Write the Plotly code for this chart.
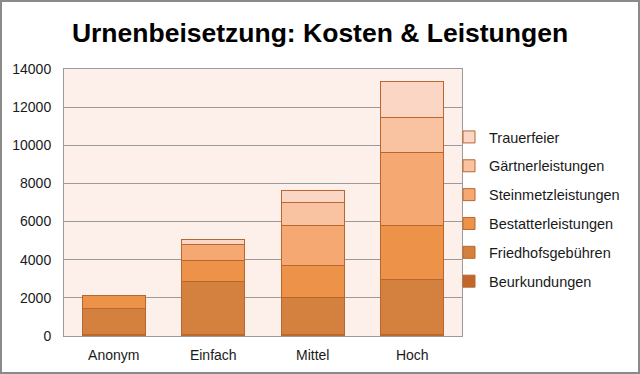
import plotly.graph_objects as go

categories = ["Anonym", "Einfach", "Mittel", "Hoch"]
series_names = ["Beurkundungen", "Friedhofsgebühren", "Bestatterleistungen",
                "Steinmetzleistungen", "Gärtnerleistungen", "Trauerfeier"]
beurkundungen = [80, 80, 80, 80]
friedhof = [1370, 2770, 1950, 2900]
bestatter = [650, 1130, 1690, 2790]
steinmetz = [0, 820, 2100, 3840]
gaertner = [0, 0, 1170, 1860]
trauerfeier = [0, 280, 660, 1870]
series_values = [beurkundungen, friedhof, bestatter, steinmetz, gaertner, trauerfeier]
colors = ["#C2672C", "#D4803E", "#EC9249", "#F5A872", "#F9C3A2", "#FBD6C4"]
y_ticks = [0, 2000, 4000, 6000, 8000, 10000, 12000, 14000]

W, H = 640, 374
L, R, T, B = 64, 178, 69, 38

fig = go.Figure()
n = len(series_names)
for i, (name, vals, col) in enumerate(zip(series_names, series_values, colors)):
    fig.add_trace(go.Bar(
        x=categories, y=vals, name=name, legendgroup=name, legendrank=n - i,
        marker=dict(color=col, line=dict(color="#B9672F", width=1)),
    ))

pw = W - L - R
ph = H - T - B
def px_x(p):
    return (p - L) / pw
def px_y(p):
    return (H - B - p) / ph

fig.update_layout(
    width=W, height=H,
    margin=dict(l=L, r=R, t=T, b=B),
    barmode="stack", bargap=0.37,
    paper_bgcolor="white", plot_bgcolor="#FDEFE9",
    font=dict(family="Liberation Sans, Arial, sans-serif", size=14, color="#1a1a1a"),
    title=dict(text="<b>Urnenbeisetzung: Kosten &amp; Leistungen</b>",
               x=0.5, xanchor="center", y=1 - 33 / H, yanchor="middle",
               font=dict(size=26.5, color="black")),
    legend=dict(x=px_x(449), y=px_y(121), xanchor="left", yanchor="top",
                traceorder="grouped", tracegroupgap=7,
                font=dict(size=14.5, color="#1a1a1a"), bgcolor="rgba(0,0,0,0)",
                itemwidth=30),
    xaxis=dict(showgrid=False, showline=True, linecolor="#9a9a9a", linewidth=1,
               mirror=True, ticks="", tickfont=dict(size=14),
               ticklabelstandoff=6),
    yaxis=dict(range=[0, 14000], tickvals=y_ticks, tickformat="d", showgrid=True,
               gridcolor="#9a9a9a", gridwidth=1, showline=True,
               linecolor="#9a9a9a", linewidth=1, mirror=True, ticks="",
               ticklabelstandoff=9,
               zeroline=False, tickfont=dict(size=14)),
    shapes=[dict(type="rect", xref="paper", yref="paper",
                 x0=px_x(1), x1=px_x(W - 1), y0=px_y(H - 1), y1=px_y(1),
                 line=dict(color="#8a8a8a", width=2), layer="below")],
)

fig.write_html("out.html", config={"displayModeBar": False},
               post_script="document.body.style.margin='0';")
